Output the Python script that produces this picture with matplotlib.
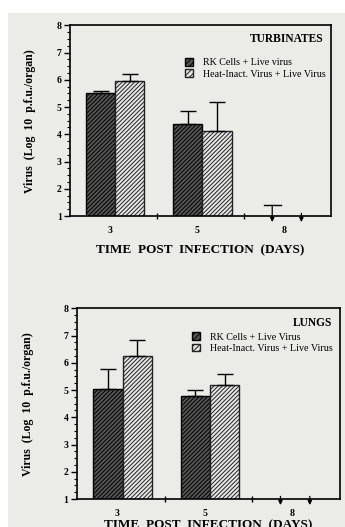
import numpy as np
import matplotlib.pyplot as plt
import matplotlib.patches as mpatches
from matplotlib.ticker import MultipleLocator

plt.rcParams['font.family'] = ['Liberation Serif', 'DejaVu Serif']
plt.rcParams['hatch.linewidth'] = 0.7

# データ (読み取り値)
days = ['3', '5', '8']
turb_rk = [5.52, 4.37, 1.0]
turb_rk_err = [0.08, 0.50, 0.40]
turb_heat = [5.95, 4.13, 1.0]
turb_heat_err = [0.25, 1.07, 0.0]
lung_rk = [5.03, 4.77, 1.0]
lung_rk_err = [0.74, 0.23, 0.0]
lung_heat = [6.25, 5.20, 1.0]
lung_heat_err = [0.58, 0.38, 0.0]
# 検出限界以下 (day 8) -> 矢印
below_limit = [False, False, True]

dark = '#555555'
light = '#e6e6e6'
hatch = '////////'

fig = plt.figure(figsize=(3.45, 5.27), dpi=100)
fig.patch.set_facecolor('#ebebe8')
# 紙の外側 (写真の白い部分)
fig.patches.append(mpatches.Rectangle((0, 0.975), 1, 0.025, transform=fig.transFigure,
                                      facecolor='white', edgecolor='none', zorder=0))
fig.patches.append(mpatches.Rectangle((0, 0), 0.022, 1, transform=fig.transFigure,
                                      facecolor='white', edgecolor='none', zorder=0))

width = 0.335
centers = np.arange(len(days)) + 0.52


def panel(ax, rk, rk_err, heat, heat_err, title, labels, title_y, leg_y, xpad, ypad):
    x1 = centers - width / 2
    x2 = centers + width / 2
    for i in range(len(days)):
        if below_limit[i]:
            continue
        ax.bar(x1[i], rk[i], width, color=dark, edgecolor='black',
               hatch=hatch, linewidth=1.0, zorder=2)
        ax.bar(x2[i], heat[i], width, color=light, edgecolor='#222222',
               hatch=hatch, linewidth=1.0, zorder=2)
        ax.errorbar(x1[i], rk[i], yerr=[[0], [rk_err[i]]], color='black',
                    capsize=6, elinewidth=1.0, capthick=1.0, zorder=3)
        ax.errorbar(x2[i], heat[i], yerr=[[0], [heat_err[i]]], color='black',
                    capsize=6, elinewidth=1.0, capthick=1.0, zorder=3)
    # day 8: 検出限界以下
    for i in range(len(days)):
        if not below_limit[i]:
            continue
        for xx, v, e in [(x1[i] - 0.03, rk[i], rk_err[i]), (x2[i] - 0.03, heat[i], heat_err[i])]:
            top = v + e if e > 0 else v + 0.1
            if e > 0:
                ax.plot([xx - 0.1, xx + 0.1], [top, top], color='black', lw=1.0,
                        clip_on=False)
            ax.annotate('', xy=(xx, v - 0.22), xytext=(xx, top),
                        arrowprops=dict(arrowstyle='-|>', color='black', lw=0.9,
                                        mutation_scale=6, shrinkA=0, shrinkB=0),
                        annotation_clip=False)

    ax.set_xlim(0, 3)
    ax.set_ylim(1, 8)
    ax.set_facecolor('none')
    ax.set_xticks([1, 2])
    ax.set_xticklabels([])
    ax.set_xticks(centers - 0.06, minor=True)
    ax.set_xticklabels(days, minor=True, fontweight='bold', fontsize=7)
    ax.tick_params(axis='x', which='major', direction='inout', length=4, width=1)
    ax.tick_params(axis='x', which='minor', length=0, pad=7)
    ax.yaxis.set_major_locator(MultipleLocator(1))
    ax.yaxis.set_minor_locator(MultipleLocator(0.25))
    ax.tick_params(axis='y', which='major', direction='out', length=4, width=1,
                   labelsize=7, pad=2)
    ax.tick_params(axis='y', which='minor', direction='out', length=2, width=0.8)
    for lab in ax.get_yticklabels():
        lab.set_fontweight('bold')
    for s in ax.spines.values():
        s.set_linewidth(1.2)

    ax.set_ylabel('Virus  (Log  10  p.f.u./organ)', fontweight='bold', fontsize=8.5,
                  labelpad=ypad)
    ax.set_xlabel('TIME  POST  INFECTION  (DAYS)', fontweight='bold', fontsize=9.5,
                  labelpad=xpad)
    ax.text(0.97, title_y, title, transform=ax.transAxes, ha='right', va='center',
            fontweight='bold', fontsize=8.3)

    h1 = mpatches.Patch(facecolor=dark, edgecolor='black', hatch='//////')
    h2 = mpatches.Patch(facecolor=light, edgecolor='#222222', hatch='//////')
    ax.legend([h1, h2], labels, loc='center left', bbox_to_anchor=(0.42, leg_y),
              frameon=False, fontsize=7.2, handlelength=0.8, handleheight=0.8,
              handletextpad=1.0, labelspacing=0.2, borderpad=0)


ax1 = fig.add_axes([0.203, 0.590, 0.757, 0.362])
panel(ax1, turb_rk, turb_rk_err, turb_heat, turb_heat_err, 'TURBINATES',
      ['RK Cells + Live virus', 'Heat-Inact. Virus + Live Virus'], 0.93, 0.775, 7, 15)

ax2 = fig.add_axes([0.223, 0.053, 0.762, 0.362])
panel(ax2, lung_rk, lung_rk_err, lung_heat, lung_heat_err, 'LUNGS',
      ['RK Cells + Live Virus', 'Heat-Inact. Virus + Live Virus'], 0.925, 0.82, 1, 21)

plt.savefig('out.png', dpi=100, facecolor=fig.get_facecolor())
